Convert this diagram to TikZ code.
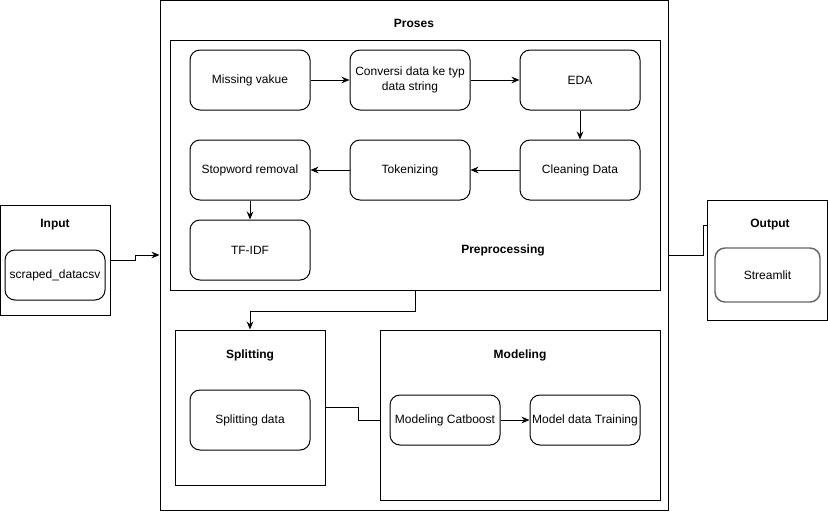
\documentclass[tikz,border=0pt]{standalone}
\usepackage{fontspec}
\setmainfont{Liberation Sans}
\usetikzlibrary{arrows.meta}
\tikzset{
  box/.style={draw, rounded corners=7.5pt, line width=0.75pt, minimum width=90pt, minimum height=45pt, inner sep=1pt, align=center},
  frame/.style={draw, line width=0.75pt, inner sep=0pt},
  title/.style={font=\fontsize{9}{11}\selectfont\bfseries},
  arr/.style={-{Stealth[length=6pt,width=5pt]}, line width=0.75pt},
  link/.style={line width=0.75pt}
}
\begin{document}
\begin{tikzpicture}[x=0.75pt,y=-0.75pt,font=\fontsize{9}{11}\selectfont]
\useasboundingbox (0,0) rectangle (828,511);
% outer frames
\node[frame, minimum width=381pt, minimum height=382.5pt] (proses) at (414,255) {};
\node[title] at (414,23) {Proses};
\node[frame, minimum width=367.5pt, minimum height=187.5pt] (prepro) at (415,165) {};
\node[title] at (503,250) {Preprocessing};
\node[frame, minimum width=112.5pt, minimum height=116.25pt] (split) at (250,407.5) {};
\node[title] at (250,355) {Splitting};
\node[frame, minimum width=210pt, minimum height=127.5pt] (model) at (520,415) {};
\node[title] at (520,355) {Modeling};
\node[frame, minimum width=82.5pt, minimum height=82.5pt] (input) at (55,260) {};
\node[title] at (55,225) {Input};
\node[frame, minimum width=90pt, minimum height=90pt] (output) at (767,260) {};
\node[title] at (770,225) {Output};
% steps
\node[box] (missing) at (250,80) {Missing vakue};
\node[box] (conversi) at (410,80) {Conversi data ke typ\\data string};
\node[box] (eda) at (580,80) {EDA};
\node[box] (stopword) at (250,170) {Stopword removal};
\node[box] (token) at (410,170) {Tokenizing};
\node[box] (cleaning) at (580,170) {Cleaning Data};
\node[box] (tfidf) at (250,250) {TF-IDF};
\node[box] (splitdata) at (250,420) {Splitting data};
\node[box, minimum width=82.5pt, minimum height=37.5pt] (catboost) at (445,420) {Modeling Catboost};
\node[box, minimum width=82.5pt, minimum height=37.5pt] (training) at (585,420) {Model data Training};
\node[box, minimum width=75pt, minimum height=37.5pt] (scraped) at (55,275) {scraped\_datacsv};
\node[box, draw=black!60, line width=1.1pt, minimum width=78.75pt, minimum height=40.5pt] (streamlit) at (767.5,275) {Streamlit};
% connectors
\draw[arr] (missing) -- (conversi);
\draw[arr] (conversi) -- (eda);
\draw[arr] (eda) -- (cleaning);
\draw[arr] (cleaning) -- (token);
\draw[arr] (token) -- (stopword);
\draw[arr] (stopword) -- (tfidf);
\draw[arr] (catboost) -- (training);
\draw[arr] (input.east) -- (135,260) -- (135,255) -- (proses.west);
\draw[link] (proses.east) -- (703,255) -- (703,225) -- (output.west |- 0,225);
\draw[arr] (prepro.south) -- (415,311) -- (250,311) -- (split.north);
\draw[link] (split.east) -- (358,407.5) -- (358,420) -- (model.west |- 0,420);
\end{tikzpicture}
\end{document}
